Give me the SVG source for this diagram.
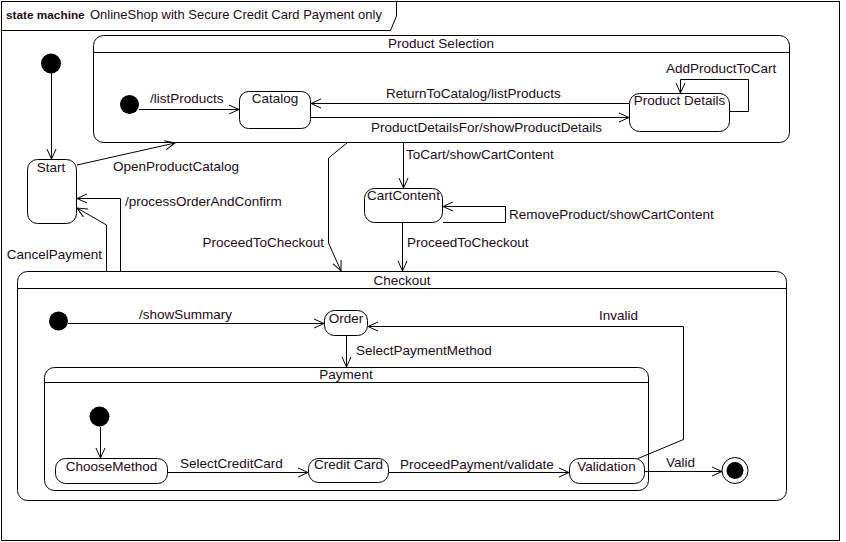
<svg xmlns="http://www.w3.org/2000/svg" width="846" height="542" viewBox="0 0 846 542">
<style>
text{font-family:"Liberation Sans",Arial,sans-serif;font-size:13.5px;fill:#1e0a22}
.st{fill:#fff;stroke:#000;stroke-width:1}
.ln{fill:none;stroke:#000;stroke-width:1}
.c{text-anchor:middle}
.e{text-anchor:end}
</style>
<defs>
<marker id="a" markerUnits="userSpaceOnUse" markerWidth="12" markerHeight="12" refX="10" refY="5" orient="auto" viewBox="0 0 12 10">
<path d="M0,0.5 L10,5 L0,9.5" fill="none" stroke="#000" stroke-width="1"/>
</marker>
</defs>
<rect x="0" y="0" width="846" height="542" fill="#fff"/>
<g id="frame">
<rect x="1.5" y="1.5" width="838" height="539" fill="#fff" stroke="#000"/>
<path d="M1.5,30.5 H390.5 L396.5,16 V1.5" class="ln"/>
<text x="6" y="19" style="font-weight:bold;font-size:11.8px">state machine</text>
<text x="90" y="19" style="font-size:13px">OnlineShop with Secure Credit Card Payment only</text>
</g>
<g id="productSelection">
<rect x="93.5" y="35.5" width="696" height="107" rx="10" class="st"/>
<line x1="93.5" y1="52.5" x2="789.5" y2="52.5" class="ln"/>
<text x="441" y="48" class="c">Product Selection</text>
</g>
<g id="checkout">
<rect x="17.5" y="271.5" width="769" height="229" rx="10" class="st"/>
<line x1="17.5" y1="288.5" x2="786.5" y2="288.5" class="ln"/>
<text x="402" y="285" class="c">Checkout</text>
</g>
<g id="payment">
<rect x="44.5" y="367.5" width="604" height="123" rx="10" class="st"/>
<line x1="44.5" y1="382.5" x2="648.5" y2="382.5" class="ln"/>
<text x="346" y="379" class="c">Payment</text>
</g>
<g id="init0"><circle cx="51" cy="63.5" r="10" fill="#000"/></g>
<g id="start">
<rect x="27.5" y="159.5" width="49" height="64" rx="10" class="st"/>
<text x="51" y="172" class="c">Start</text>
</g>
<g id="init1"><circle cx="129.5" cy="104.5" r="9.5" fill="#000"/></g>
<g id="catalog">
<rect x="239.5" y="91.5" width="71" height="37" rx="9" class="st"/>
<text x="275" y="103" class="c">Catalog</text>
</g>
<g id="productDetails">
<rect x="629.5" y="93.5" width="100" height="38" rx="10" class="st"/>
<text x="679.5" y="105" class="c">Product Details</text>
</g>
<g id="cartContent">
<rect x="364.5" y="188.5" width="78" height="34" rx="10" class="st"/>
<text x="403.5" y="200" class="c">CartContent</text>
</g>
<g id="init2"><circle cx="58.5" cy="321" r="9.5" fill="#000"/></g>
<g id="order">
<rect x="324.5" y="310.5" width="43" height="25" rx="10" class="st"/>
<text x="346" y="323" class="c">Order</text>
</g>
<g id="init3"><circle cx="99.5" cy="416.5" r="10" fill="#000"/></g>
<g id="chooseMethod">
<rect x="55.5" y="458.5" width="112" height="25" rx="10" class="st"/>
<text x="111.5" y="471" class="c">ChooseMethod</text>
</g>
<g id="creditCard">
<rect x="308.5" y="458.5" width="80" height="24" rx="10" class="st"/>
<text x="348.5" y="469" class="c">Credit Card</text>
</g>
<g id="validation">
<rect x="569.5" y="458.5" width="75" height="25" rx="10" class="st"/>
<text x="606.5" y="471" class="c">Validation</text>
</g>
<g id="final">
<circle cx="735" cy="470.5" r="13" fill="#fff" stroke="#000"/>
<circle cx="735" cy="470.5" r="8.5" fill="#000"/>
</g>
<g id="connectors">
<path d="M51.5,73 V159" class="ln" marker-end="url(#a)"/>
<path d="M139,109.5 H239" class="ln" marker-end="url(#a)"/>
<text x="150" y="103">/listProducts</text>
<path d="M629,103.5 H311" class="ln" marker-end="url(#a)"/>
<text x="386" y="98">ReturnToCatalog/listProducts</text>
<path d="M311,117.5 H629" class="ln" marker-end="url(#a)"/>
<text x="371" y="132">ProductDetailsFor/showProductDetails</text>
<path d="M730,111.5 H748.5 V79.5 H680.5 V93" class="ln" marker-end="url(#a)"/>
<text x="666" y="73">AddProductToCart</text>
<path d="M77,165 L175,143" class="ln" marker-end="url(#a)"/>
<text x="113" y="171">OpenProductCatalog</text>
<path d="M120.5,271 V198.5 H77" class="ln" marker-end="url(#a)"/>
<text x="125" y="206">/processOrderAndConfirm</text>
<path d="M106.5,271 V225 L77,208" class="ln" marker-end="url(#a)"/>
<text x="102" y="259" class="e">CancelPayment</text>
<path d="M347,143 L328.5,158 V243 L341,271" class="ln" marker-end="url(#a)"/>
<text x="324" y="247" class="e">ProceedToCheckout</text>
<path d="M403.5,143 V188" class="ln" marker-end="url(#a)"/>
<text x="406" y="159">ToCart/showCartContent</text>
<path d="M443,222.5 H505.5 V206.5 H443" class="ln" marker-end="url(#a)"/>
<text x="509" y="219">RemoveProduct/showCartContent</text>
<path d="M402.5,223 V271" class="ln" marker-end="url(#a)"/>
<text x="407" y="247">ProceedToCheckout</text>
<path d="M68,323.5 H324" class="ln" marker-end="url(#a)"/>
<text x="139" y="319">/showSummary</text>
<path d="M346.5,336 V367" class="ln" marker-end="url(#a)"/>
<text x="356" y="355">SelectPaymentMethod</text>
<path d="M100.5,427 V458" class="ln" marker-end="url(#a)"/>
<path d="M168,472.5 H308" class="ln" marker-end="url(#a)"/>
<text x="180" y="468">SelectCreditCard</text>
<path d="M389,472.5 H569" class="ln" marker-end="url(#a)"/>
<text x="400" y="469">ProceedPayment/validate</text>
<path d="M638,458.5 L683.5,439.5 V326.5 H368" class="ln" marker-end="url(#a)"/>
<text x="599" y="320">Invalid</text>
<path d="M645,471.5 H722" class="ln" marker-end="url(#a)"/>
<text x="666" y="467">Valid</text>
</g>
</svg>
